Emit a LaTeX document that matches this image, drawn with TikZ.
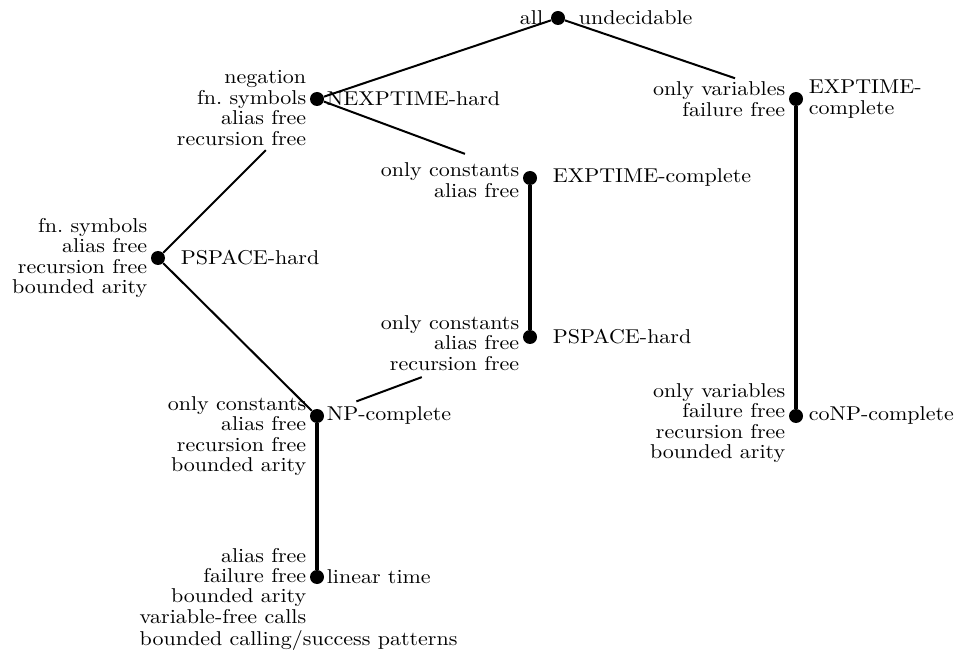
\documentclass[tikz,border=0pt]{standalone}
\usepackage{fontspec}
\setmainfont{lmroman10-regular.otf}[FakeStretch=1.1]
\usetikzlibrary{positioning}
\tikzset{
  dot/.style={circle, fill=black, inner sep=0pt, minimum size=7pt},
  lbl/.style={inner sep=0pt, align=right, font=\fontsize{10}{10.2}\selectfont},
  rlbl/.style={inner sep=0pt, align=left, font=\fontsize{10}{10.2}\selectfont},
  edge/.style={line width=1pt},
  chain/.style={line width=1.8pt}
}
\begin{document}
\begin{tikzpicture}[x=0.5pt, y=0.5pt]
          \useasboundingbox (0,0) rectangle (959,649);
          % Classes
          \node[dot] (all) at (558,631) {};
          \node[dot] (nexp) at (317,550) {};
          \node[dot] (expvar) at (796,550) {};
          \node[dot] (expcon) at (530,471) {};
          \node[dot] (pspl) at (158,391) {};
          \node[dot] (pspm) at (530,312) {};
          \node[dot] (np) at (317,233) {};
          \node[dot] (conp) at (796,233) {};
          \node[dot] (lin) at (317,72) {};
          % Restrictions
          \node[lbl, left=3.5pt of all] {all};
          \node[lbl, left=1.5pt of nexp, yshift=-4.5pt] {negation\\fn.\ symbols\\alias free\\recursion free};
          \node[lbl, left=1.5pt of expvar] {only variables\\failure free};
          \node[lbl, left=1.5pt of expcon, yshift=-1pt] {only constants\\alias free};
          \node[lbl, left=1.5pt of pspl] {fn.\ symbols\\alias free\\recursion free\\bounded arity};
          \node[lbl, left=1.5pt of pspm, yshift=-3pt] {only constants\\alias free\\recursion free};
          \node[lbl, left=1.5pt of np, yshift=-10pt] {only constants\\alias free\\recursion free\\bounded arity};
          \node[lbl, left=1.5pt of conp, yshift=-3.5pt] {only variables\\failure free\\recursion free\\bounded arity};
          \node[lbl, left=1.5pt of lin, yshift=-4.4pt] (linl) {alias free\\failure free\\bounded arity\\variable-free calls};
          \node[rlbl, anchor=north west, yshift=-3.3pt] at (linl.south west) {bounded calling/success patterns};
          % Complexity
          \node[rlbl, right=6.5pt of all] {undecidable};
          \node[rlbl, right=1pt of nexp] {NEXPTIME-hard};
          \node[rlbl, right=2.5pt of expvar] {EXPTIME-\\complete};
          \node[rlbl, right=7.5pt of expcon] {EXPTIME-complete};
          \node[rlbl, right=7.5pt of pspl] {PSPACE-hard};
          \node[rlbl, right=7.5pt of pspm] {PSPACE-hard};
          \node[rlbl, right=1pt of np] {NP-complete};
          \node[rlbl, right=2.5pt of conp] {coNP-complete};
          \node[rlbl, right=1pt of lin] {linear time};
          % Hierarchy
          \draw[edge] (all) -- (nexp);
          \draw[edge, shorten >=28.5pt] (all) -- (expvar);
          \draw[edge, shorten >=31pt] (nexp) -- (expcon);
          \draw[edge, shorten >=32.5pt] (pspl) -- (nexp);
          \draw[edge] (pspl) -- (np);
          \draw[edge, shorten <=17.3pt, shorten >=54pt] (np) -- (pspm);
          \draw[chain] (expcon) -- (pspm);
          \draw[chain] (np) -- (lin);
          \draw[chain] (expvar) -- (conp);
        \end{tikzpicture}
\end{document}
